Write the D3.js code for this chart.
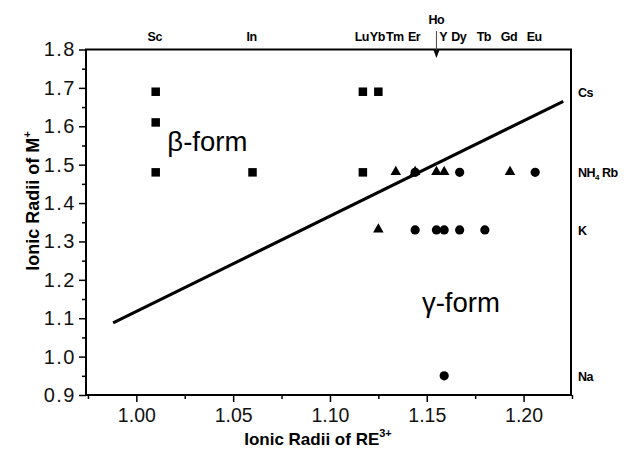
<!doctype html>
<html>
<head>
<meta charset="utf-8">
<title>Ionic radii</title>
<script src="https://cdn.jsdelivr.net/npm/d3@7"></script>
<style>
  body { margin: 0; background: #fff; }
  svg { display: block; font-family: "Liberation Sans", Arial, sans-serif; }
</style>
</head>
<body>
<div id="chart"></div>
<script>
  // RE3+ radii used on the x axis (top labels)
  const reNames = ['Sc', 'In', 'Lu', 'Yb', 'Tm', 'Er', 'Ho', 'Y', 'Dy', 'Tb', 'Gd', 'Eu'];
  const reRadii = [1.010, 1.060, 1.117, 1.125, 1.134, 1.144, 1.155, 1.159, 1.167, 1.180, 1.193, 1.206];

  // M+ radii (right labels)
  const mNames = ['Cs', 'NH4 Rb', 'K', 'Na'];
  const mRadii = [1.69, 1.48, 1.33, 0.95];

  // beta-form (squares)
  const squareX = [1.010, 1.117, 1.125, 1.010, 1.010, 1.060, 1.117];
  const squareY = [1.69, 1.69, 1.69, 1.61, 1.48, 1.48, 1.48];

  // triangles
  const triX = [1.134, 1.144, 1.155, 1.159, 1.193, 1.125];
  const triY = [1.48, 1.48, 1.48, 1.48, 1.48, 1.33];

  // gamma-form (circles)
  const circX = [1.144, 1.167, 1.206, 1.144, 1.155, 1.159, 1.167, 1.180, 1.159];
  const circY = [1.48, 1.48, 1.48, 1.33, 1.33, 1.33, 1.33, 1.33, 0.95];

  // boundary line
  const lineX = [0.988, 1.2205];
  const lineY = [1.088, 1.665];

  const xTicks = [1.00, 1.05, 1.10, 1.15, 1.20];
  const yTicks = [0.9, 1.0, 1.1, 1.2, 1.3, 1.4, 1.5, 1.6, 1.7, 1.8];

  const width = 624, height = 452;
  const m = { left: 86, right: 571, top: 49.5, bottom: 395 };

  const x = d3.scaleLinear().domain([0.974, 1.2245]).range([m.left, m.right]);
  const y = d3.scaleLinear().domain([0.9, 1.8]).range([m.bottom, m.top]);

  const svg = d3.select('#chart').append('svg')
    .attr('width', width)
    .attr('height', height);

  // minor ticks
  const xMinor = xTicks.map(v => v - 0.025).concat([1.225]);
  const yMinor = yTicks.slice(0, -1).map(v => v + 0.05);

  svg.append('g')
    .attr('transform', `translate(0,${m.bottom})`)
    .call(d3.axisBottom(x).tickValues(xMinor).tickSize(4).tickFormat(''))
    .call(g => g.select('.domain').remove())
    .selectAll('line').attr('stroke-width', 1.5);

  svg.append('g')
    .attr('transform', `translate(${m.left},0)`)
    .call(d3.axisLeft(y).tickValues(yMinor).tickSize(4).tickFormat(''))
    .call(g => g.select('.domain').remove())
    .selectAll('line').attr('stroke-width', 1.5);

  // major ticks
  const xAxis = svg.append('g')
    .attr('transform', `translate(0,${m.bottom})`)
    .call(d3.axisBottom(x).tickValues(xTicks).tickSize(7).tickPadding(6).tickFormat(d3.format('.2f')));
  xAxis.select('.domain').remove();
  xAxis.selectAll('line').attr('stroke-width', 1.5);
  xAxis.selectAll('text').attr('font-size', 19.5).attr('font-family', '"Liberation Sans", Arial, sans-serif').attr('fill', '#111');

  const yAxis = svg.append('g')
    .attr('transform', `translate(${m.left},0)`)
    .call(d3.axisLeft(y).tickValues(yTicks).tickSize(7).tickPadding(3).tickFormat(d3.format('.1f')));
  yAxis.select('.domain').remove();
  yAxis.selectAll('line').attr('stroke-width', 1.5);
  yAxis.selectAll('text').attr('font-size', 20).attr('letter-spacing', 1.5)
    .attr('font-family', '"Liberation Sans", Arial, sans-serif').attr('fill', '#111');

  // frame
  svg.append('rect')
    .attr('x', m.left).attr('y', m.top)
    .attr('width', m.right - m.left).attr('height', m.bottom - m.top)
    .attr('fill', 'none').attr('stroke', '#000').attr('stroke-width', 2);

  // boundary line
  svg.append('line')
    .attr('x1', x(lineX[0])).attr('y1', y(lineY[0]))
    .attr('x2', x(lineX[1])).attr('y2', y(lineY[1]))
    .attr('stroke', '#000').attr('stroke-width', 3);

  // markers
  const sq = 8.5;
  svg.append('g').selectAll('rect')
    .data(squareX.map((v, i) => [v, squareY[i]]))
    .join('rect')
    .attr('x', d => x(d[0]) - sq / 2).attr('y', d => y(d[1]) - sq / 2)
    .attr('width', sq).attr('height', sq).attr('fill', '#000');

  svg.append('g').selectAll('circle')
    .data(circX.map((v, i) => [v, circY[i]]))
    .join('circle')
    .attr('cx', d => x(d[0])).attr('cy', d => y(d[1])).attr('r', 4.6).attr('fill', '#000');

  const tri = d3.symbol().type(d3.symbolTriangle).size(48);
  svg.append('g').selectAll('path')
    .data(triX.map((v, i) => [v, triY[i]]))
    .join('path')
    .attr('d', tri)
    .attr('transform', d => `translate(${x(d[0])},${y(d[1]) - 0.5})`)
    .attr('fill', '#000');

  // form labels
  svg.append('text')
    .attr('x', x(1.016)).attr('y', 151)
    .attr('font-size', 28).attr('textLength', 80).attr('lengthAdjust', 'spacingAndGlyphs')
    .text('β-form');
  svg.append('text')
    .attr('x', x(1.1475)).attr('y', 312)
    .attr('font-size', 28).attr('textLength', 78).attr('lengthAdjust', 'spacingAndGlyphs')
    .text('γ-form');

  // top element labels
  const topG = svg.append('g')
    .attr('font-size', 12.5).attr('font-weight', 'bold').attr('text-anchor', 'middle')
    .attr('letter-spacing', -0.5);
  reNames.forEach((name, i) => {
    const isHo = name === 'Ho';
    topG.append('text')
      .attr('x', x(reRadii[i]) - (isHo ? 0 : 1))
      .attr('y', isHo ? 24 : 41)
      .text(name);
  });

  // arrow under Ho
  const hoX = x(reRadii[reNames.indexOf('Ho')]);
  svg.append('line')
    .attr('x1', hoX).attr('y1', 31).attr('x2', hoX).attr('y2', 52)
    .attr('stroke', '#444').attr('stroke-width', 1);
  svg.append('path')
    .attr('d', `M${hoX - 3},50 L${hoX + 3},50 L${hoX},58 Z`)
    .attr('fill', '#000');

  // right labels
  const rightG = svg.append('g')
    .attr('font-size', 12.5).attr('font-weight', 'bold').attr('letter-spacing', -0.5);
  mNames.forEach((name, i) => {
    const t = rightG.append('text')
      .attr('x', m.right + 7)
      .attr('y', y(mRadii[i]) + 5);
    if (name.startsWith('NH4')) {
      t.append('tspan').text('NH');
      t.append('tspan').attr('font-size', 8).attr('dy', 3).text('4');
      t.append('tspan').attr('dy', -3).text(' Rb');
    } else {
      t.text(name);
    }
  });

  // axis titles
  const xt = svg.append('text')
    .attr('x', 318).attr('y', 445)
    .attr('text-anchor', 'middle')
    .attr('font-size', 17).attr('font-weight', 'bold');
  xt.append('tspan').text('Ionic Radii of RE');
  xt.append('tspan').attr('font-size', 11).attr('dy', -8).text('3+');

  const yt = svg.append('text')
    .attr('transform', 'translate(39,201) rotate(-90)')
    .attr('text-anchor', 'middle')
    .attr('font-size', 18).attr('font-weight', 'bold');
  yt.append('tspan').text('Ionic Radii of M');
  yt.append('tspan').attr('font-size', 11).attr('dy', -8).text('+');
</script>
</body>
</html>
